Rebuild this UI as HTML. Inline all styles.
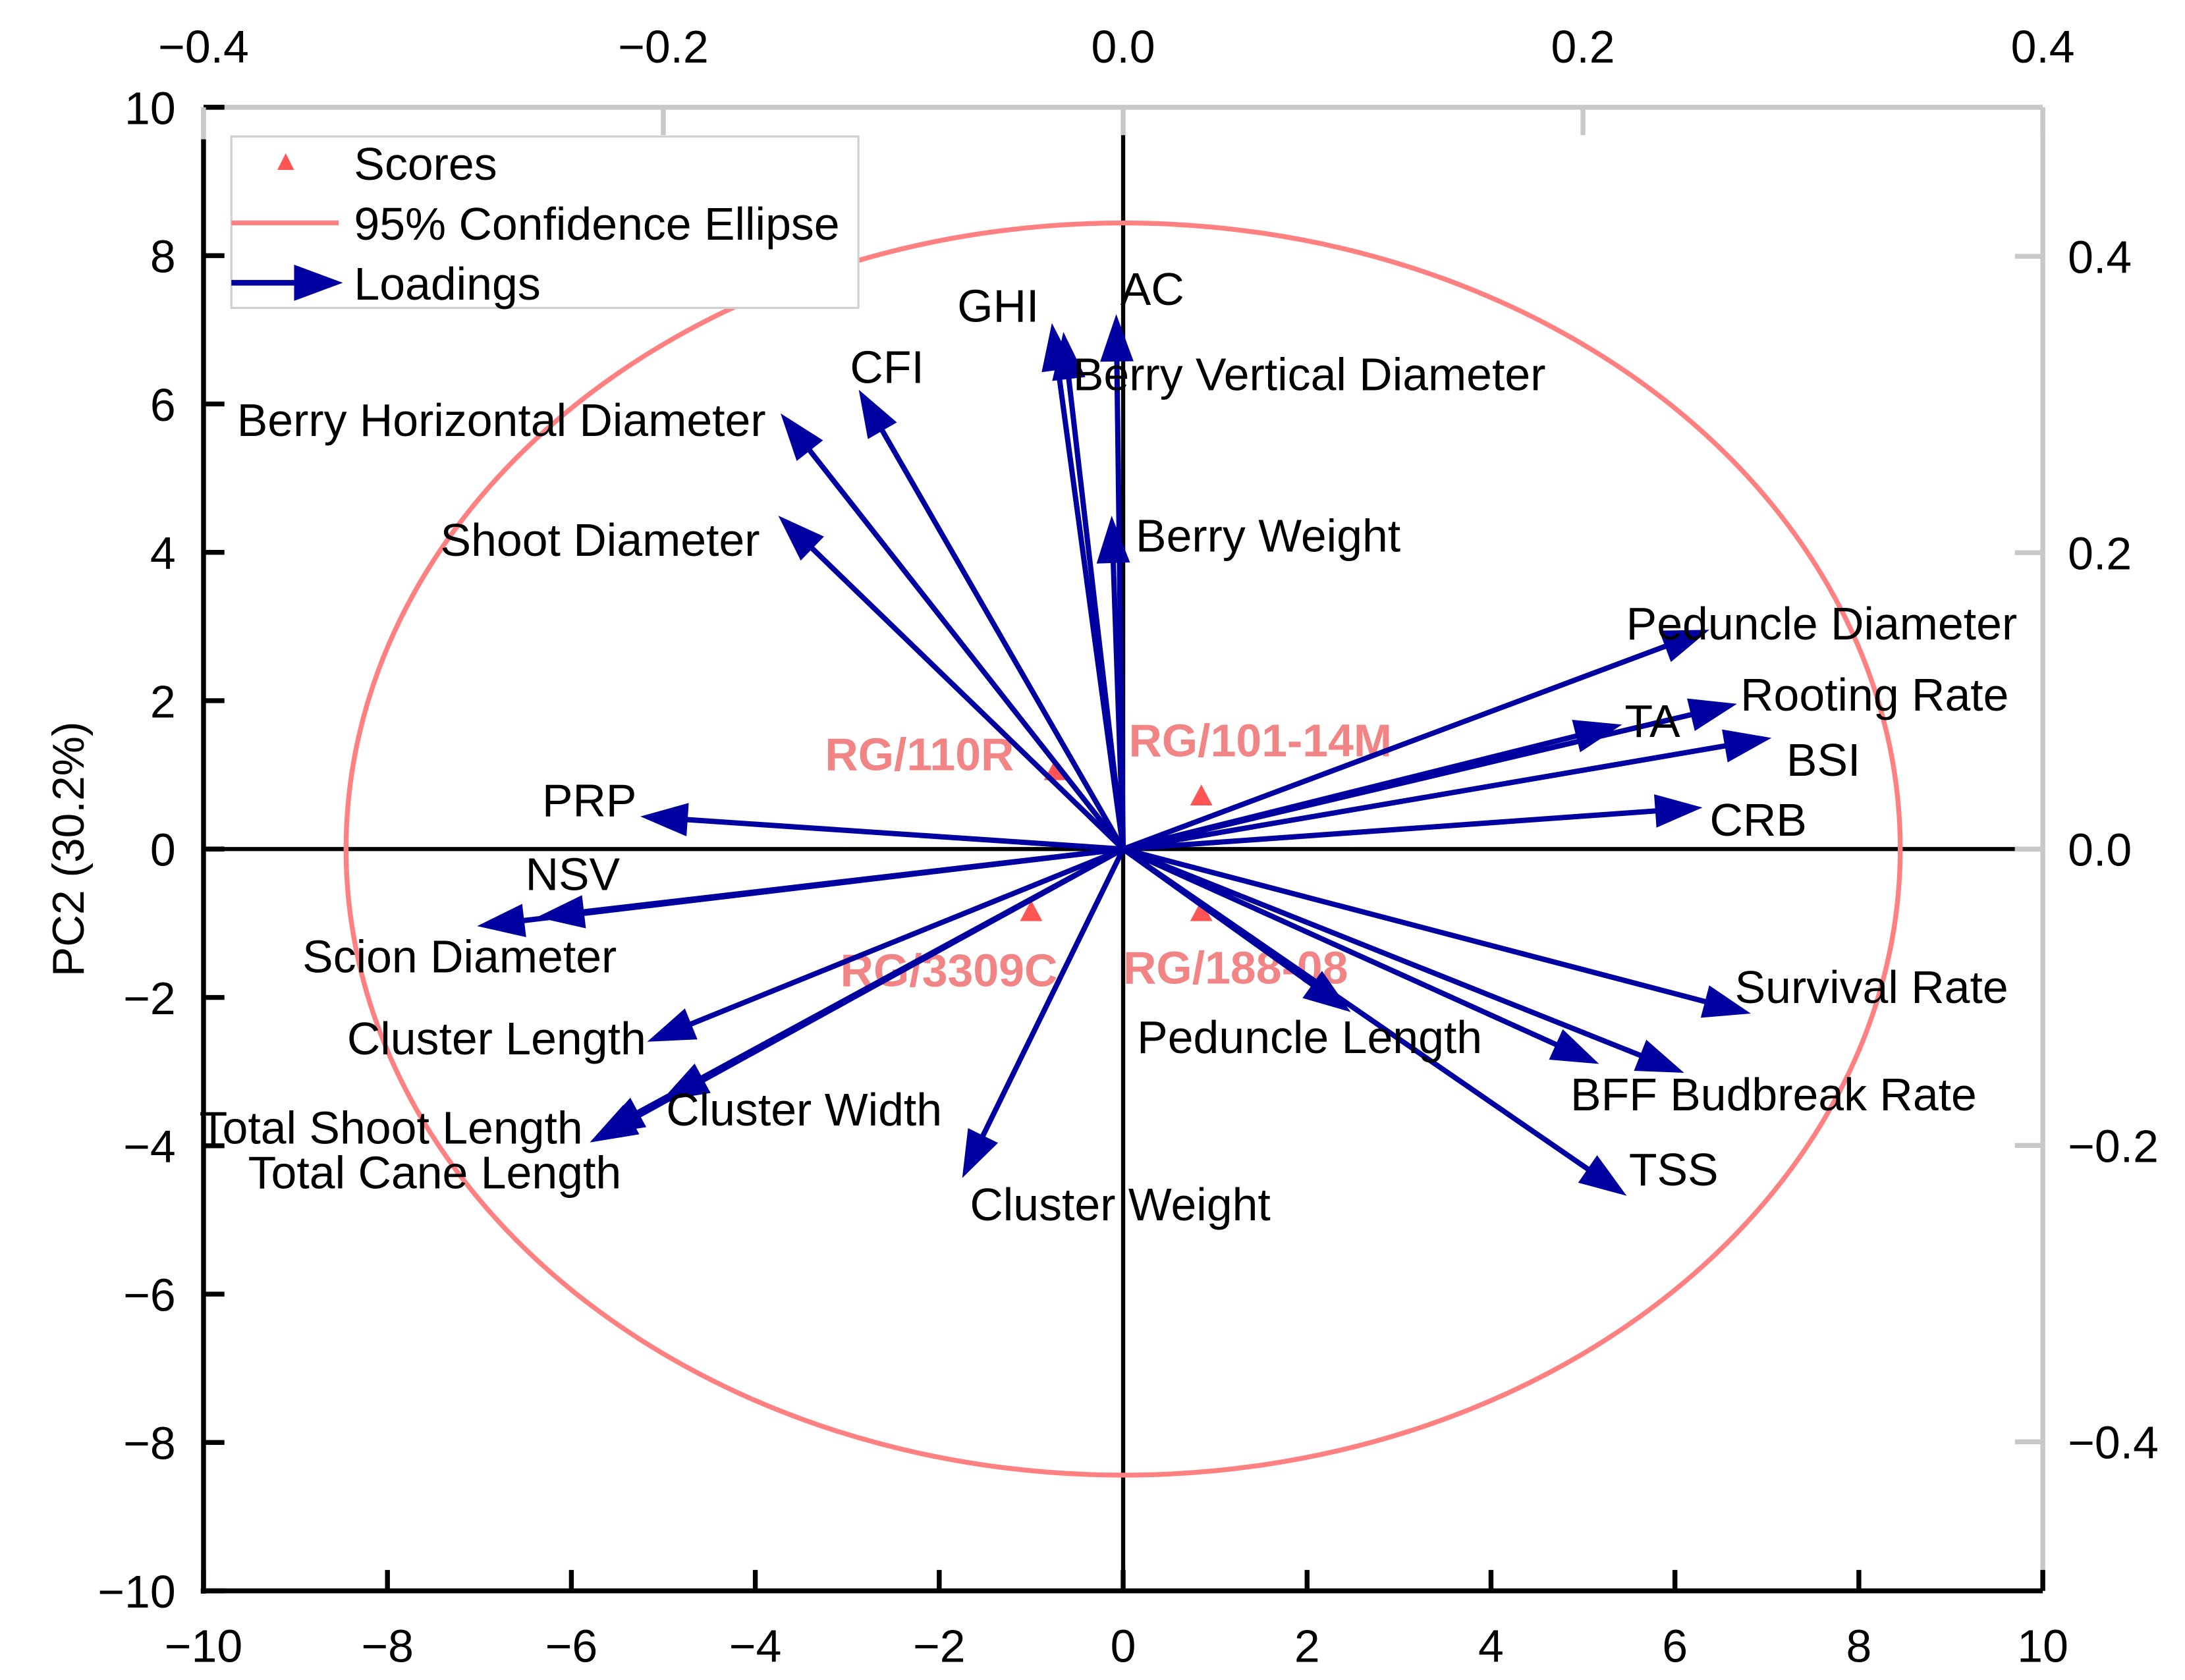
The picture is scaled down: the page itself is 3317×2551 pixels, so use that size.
<!DOCTYPE html>
<html><head><meta charset="utf-8"><style>
html,body{margin:0;padding:0;background:#fff}
svg{display:block}
text{font-family:"Liberation Sans",Arial,sans-serif}
</style></head><body>
<svg id="chart" width="3317" height="2551" viewBox="0 0 1568 1206" xmlns="http://www.w3.org/2000/svg">
<g id="axes"></g>
<g id="scorelabels"></g>
<g id="marks"></g>
<g id="legend">
  <rect x="166" y="98" width="450" height="123" fill="#fff" stroke="#d0d0d0" stroke-width="1.5"/>
  <polygon points="205,110 199,122 211,122" fill="#ff5555"/>
  <text x="254" y="129" font-size="33">Scores</text>
  <line x1="166" y1="160" x2="243" y2="160" stroke="#ff8080" stroke-width="3.5"/>
  <text x="254" y="172" font-size="33">95% Confidence Ellipse</text>
  <line x1="166" y1="203" x2="215" y2="203" stroke="#0000a0" stroke-width="4"/>
  <polygon points="246,203 211,190 211,216" fill="#0000a0"/>
  <text x="254" y="215" font-size="33">Loadings</text>
</g>
</svg>
<script>
const loadNames = ["AC","GHI","Berry Vertical Diameter","CFI","Berry Horizontal Diameter","Shoot Diameter","Berry Weight","Peduncle Diameter","Rooting Rate","TA","BSI","CRB","Survival Rate","BFF","Budbreak Rate","TSS","Peduncle Length","Cluster Weight","Cluster Width","Total Shoot Length","Total Cane Length","Cluster Length","Scion Diameter","NSV","PRP"];
const loadPC1 = [-0.003,-0.031,-0.026,-0.115,-0.149,-0.150,-0.005,0.255,0.267,0.217,0.282,0.252,0.273,0.207,0.244,0.219,0.099,-0.070,-0.201,-0.229,-0.232,-0.207,-0.281,-0.255,-0.210];
const loadPC2 = [0.361,0.355,0.349,0.310,0.294,0.225,0.225,0.148,0.098,0.084,0.075,0.028,-0.111,-0.145,-0.151,-0.234,-0.110,-0.222,-0.170,-0.193,-0.198,-0.130,-0.052,-0.046,0.022];
const labelPos = [[804,219,"start"],[687,231,"start"],[770,280,"start"],[610,275,"start"],[170,313,"start"],[316,399,"start"],[815,396,"start"],[1167,459,"start"],[1249,510,"start"],[1166,529,"start"],[1282,557,"start"],[1227,600,"start"],[1245,720,"start"],[1127,797,"start"],[1200,797,"start"],[1169,851,"start"],[816,756,"start"],[696,876,"start"],[478,808,"start"],[143,821,"start"],[178,853,"start"],[249,757,"start"],[217,698,"start"],[377,639,"start"],[389,586,"start"]];
const scoreNames = ["RG/110R","RG/101-14M","RG/3309C","RG/188-08"];
const scorePC1 = [-0.74,0.85,-1.0,0.85];
const scorePC2 = [1.06,0.72,-0.84,-0.84];
const scoreLabelPos = [[592,553],[810,543],[603,708],[806,706]];
const bottomTicks = [-10,-8,-6,-4,-2,0,2,4,6,8,10];
const leftTicks = [-10,-8,-6,-4,-2,0,2,4,6,8,10];
const topTicks = [-0.4,-0.2,0.0,0.2,0.4];
const rightTicks = [-0.4,-0.2,0.0,0.2,0.4];
const ellipseR = [8.45,8.44];

const NS="http://www.w3.org/2000/svg";
const L=146,R=1466,T=77,B=1142;
const xs=v=>806+66*v, ys=v=>609.5-53.25*v;
const xl=v=>806+1650*v, yl=v=>609.5-1063.75*v;
function mk(tag,attrs,parent,txt){const e=document.createElementNS(NS,tag);for(const k in attrs)e.setAttribute(k,attrs[k]);if(txt!==undefined)e.textContent=txt;parent.appendChild(e);return e;}
const fmt=v=>(v<0?"\u2212":"")+Math.abs(v);
const fmt1=v=>(v<0?"\u2212":"")+Math.abs(v).toFixed(1);

const ax=document.getElementById('axes');
let e;
e=mk('line',{x1:L,y1:T,x2:R,y2:T,stroke:'#c8c8c8','stroke-width':3.5},ax);


e=mk('line',{x1:R,y1:T,x2:R,y2:B,stroke:'#c8c8c8','stroke-width':3.5},ax);


e=mk('line',{x1:L,y1:T,x2:L,y2:100,stroke:'#c8c8c8','stroke-width':3.5},ax);


e=mk('line',{x1:L,y1:100,x2:L,y2:B+2,stroke:'#000','stroke-width':3.5},ax);


e=mk('line',{x1:L-2,y1:B,x2:R,y2:B,stroke:'#000','stroke-width':3.5},ax);


e=mk('line',{x1:xs(0),y1:97,x2:xs(0),y2:B,stroke:'#000','stroke-width':3},ax);


e=mk('line',{x1:L,y1:ys(0),x2:1446,y2:ys(0),stroke:'#000','stroke-width':3},ax);


bottomTicks.forEach(v=>{
  e=mk('line',{x1:xs(v),y1:B,x2:xs(v),y2:B-15,stroke:'#000','stroke-width':3.5},ax);
  
  
  e=mk('text',{x:xs(v),y:B+51,'font-size':33,'text-anchor':'middle'},ax,fmt(v));
  
  
});
leftTicks.forEach(v=>{
  e=mk('line',{x1:L,y1:ys(v),x2:L+15,y2:ys(v),stroke:'#000','stroke-width':3.5},ax);
  
  
  e=mk('text',{x:L-20,y:ys(v)+12,'font-size':33,'text-anchor':'end'},ax,fmt(v));
  
  
});
topTicks.forEach(v=>{
  e=mk('line',{x1:xl(v),y1:T,x2:xl(v),y2:T+20,stroke:'#c8c8c8','stroke-width':3.5},ax);
  
  
  e=mk('text',{x:xl(v),y:T-32,'font-size':33,'text-anchor':'middle'},ax,fmt1(v));
  
  
});
rightTicks.forEach(v=>{
  e=mk('line',{x1:R,y1:yl(v),x2:R-20,y2:yl(v),stroke:'#c8c8c8','stroke-width':3.5},ax);
  
  
  e=mk('text',{x:R+18,y:yl(v)+12,'font-size':33,'text-anchor':'start'},ax,fmt1(v));
  
  
});
e=mk('text',{x:60,y:ys(0),'font-size':32,'text-anchor':'middle',transform:'rotate(-90 60 '+ys(0)+')'},ax,'PC2 (30.2%)');



const sl=document.getElementById('scorelabels');
scoreNames.forEach((n,i)=>{
  e=mk('text',{x:scoreLabelPos[i][0],y:scoreLabelPos[i][1],'font-size':33,'font-weight':'bold',fill:'#f07878','fill-opacity':0.9,textLength:0},sl,n);
  e.removeAttribute('textLength');
  
  
});

const mg=document.getElementById('marks');
e=mk('ellipse',{cx:xs(0),cy:ys(0),rx:66*ellipseR[0],ry:53.25*ellipseR[1],fill:'none',stroke:'#ff8080','stroke-width':3.5},mg);


scoreNames.forEach((n,i)=>{
  const x=xs(scorePC1[i]),y=ys(scorePC2[i]);
  e=mk('polygon',{points:`${x},${y-8} ${x-8},${y+7} ${x+8},${y+7}`,fill:'#ff5555'},mg);
  
  
});
loadNames.forEach((n,i)=>{
  const x0=xs(0),y0=ys(0),x=xl(loadPC1[i]),y=yl(loadPC2[i]);
  const dx=x-x0,dy=y-y0,len=Math.hypot(dx,dy),ux=dx/len,uy=dy/len;
  const hl=34,hw=12;
  const bx=x-ux*hl,by=y-uy*hl;
  e=mk('line',{x1:x0,y1:y0,x2:bx+ux*2,y2:by+uy*2,stroke:'#0000a0','stroke-width':3.8},mg);
  
  
  e=mk('polygon',{points:`${x},${y} ${bx-uy*hw},${by+ux*hw} ${bx+uy*hw},${by-ux*hw}`,fill:'#0000a0'},mg);
  
  
});
loadNames.forEach((n,i)=>{
  if(n==="BFF"||n==="Budbreak Rate") return;
  e=mk('text',{x:labelPos[i][0],y:labelPos[i][1],'font-size':33,'text-anchor':labelPos[i][2]},mg,n);
  
  
});
e=mk('text',{x:1127,y:797,'font-size':33},mg,'BFF Budbreak Rate');


</script>
</body></html>
